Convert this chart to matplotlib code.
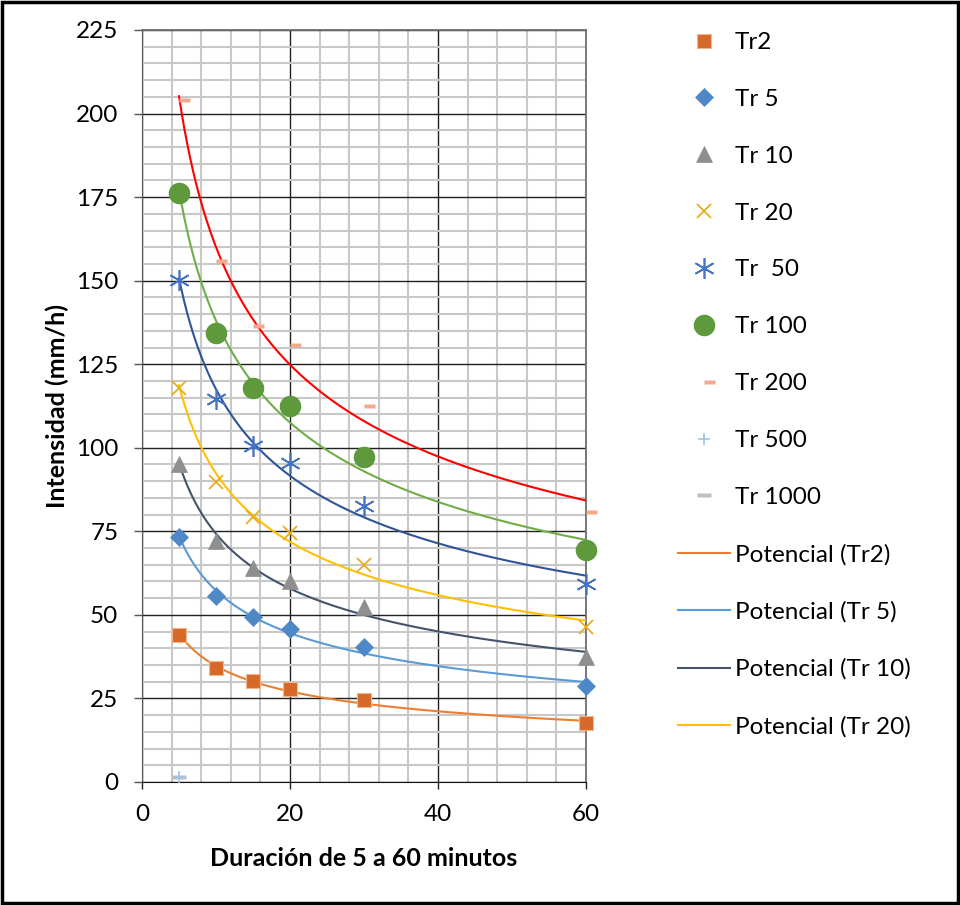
import matplotlib
matplotlib.use("Agg")
import matplotlib.pyplot as plt
from matplotlib.path import Path
from matplotlib.patches import Rectangle
import numpy as np

plt.rcParams['font.family'] = ['Lato', 'DejaVu Sans']

# duraciones (min)
dur = [5, 10, 15, 20, 30, 60]

tr2 = [44.0, 34.0, 30.3, 27.7, 24.4, 17.6]
tr5 = [73.2, 55.8, 49.5, 45.8, 40.3, 28.7]
tr10 = [95.0, 72.0, 64.0, 60.0, 52.3, 37.3]
tr20 = [118.0, 89.9, 79.3, 74.6, 64.8, 46.3]
tr50 = [150.1, 114.5, 100.5, 95.3, 82.6, 59.3]
tr100 = [176.3, 134.3, 117.8, 112.4, 97.1, 69.4]
tr200 = [204.2, 155.9, 136.4, 130.8, 112.5, 80.8]
dur_500 = [5]
tr500 = [1.5]
dur_1000 = [5]
tr1000 = [1.5]

# marcadores tipo guion (corto: desde el centro a la derecha)
short_dash = Path([(0, -0.18), (1, -0.18), (1, 0.18), (0, 0.18), (0, -0.18)],
                  [1, 2, 2, 2, 79])
long_dash = Path([(-1, -0.3), (1, -0.3), (1, 0.3), (-1, 0.3), (-1, -0.3)],
                 [1, 2, 2, 2, 79])

fs = 17.5

fig = plt.figure(figsize=(9.6, 9.05), dpi=100)
ax = fig.add_axes([142 / 960, 1 - 782 / 905, 444 / 960, 752 / 905])

series = [
    ("Tr2", tr2, dict(marker='s', ms=10.5, mfc='#D6692A', mec='#F2B48A', mew=0.8)),
    ("Tr 5", tr5, dict(marker='D', ms=9, mfc='#4F88C6', mec='#4F88C6', mew=0.5)),
    ("Tr 10", tr10, dict(marker='^', ms=11, mfc='#8F8F8F', mec='#8F8F8F', mew=0.5)),
    ("Tr 20", tr20, dict(marker='x', ms=10, mec='#E8AE1F', mew=1.3)),
    ("Tr  50", tr50, dict(marker=(6, 2, 0), ms=15, mec='#4472C4', mew=1.2)),
    ("Tr 100", tr100, dict(marker='o', ms=14.5, mfc='#5E9A3C', mec='#5E9A3C')),
    ("Tr 200", tr200, dict(marker=short_dash, ms=16, mfc='#F4A98A', mec='none')),
]
for lab, vals, st in series:
    ax.plot(dur, vals, linestyle='none', label=lab, clip_on=False, zorder=4, **st)
ax.plot(dur_500, tr500, linestyle='none', label="Tr 500", marker='+', ms=9,
        mec='#9DC3E6', mew=1.2, clip_on=False, zorder=4)
ax.plot(dur_1000, tr1000, linestyle='none', label="Tr 1000", marker=long_dash,
        ms=10, mfc='#BFBFBF', mec='none', clip_on=False, zorder=3)

# lineas de tendencia potencial  y = a * x^b
trend = [
    ("Potencial (Tr2)", tr2, '#ED7D31'),
    ("Potencial (Tr 5)", tr5, '#5B9BD5'),
    ("Potencial (Tr 10)", tr10, '#44546A'),
    ("Potencial (Tr 20)", tr20, '#FFC000'),
    ("_nolegend_", tr50, '#2F5597'),
    ("_nolegend_", tr100, '#70AD47'),
    ("_nolegend_", tr200, '#FF0000'),
]
xs = np.linspace(min(dur), max(dur), 300)
for lab, vals, col in trend:
    b, lna = np.polyfit(np.log(dur), np.log(vals), 1)
    ax.plot(xs, np.exp(lna) * xs ** b, color=col, lw=1.5, label=lab, zorder=3)

ax.set_xlim(0, 60)
ax.set_ylim(0, 225)
ax.set_xticks([0, 20, 40, 60])
ax.set_yticks(np.arange(0, 226, 25))
ax.set_xticks(np.arange(0, 61, 4), minor=True)
ax.set_yticks(np.arange(0, 226, 5), minor=True)
ax.grid(which='minor', color='#C8C8C8', lw=1.5, zorder=0)
ax.grid(which='major', color='#202020', lw=1.0, zorder=1)
ax.set_axisbelow(True)
ax.tick_params(which='minor', length=0)
ax.tick_params(axis='y', which='major', length=6, width=1, color='#555555',
               labelsize=fs, pad=11)
ax.tick_params(axis='x', which='major', length=5, width=1, color='#222222',
               labelsize=fs, pad=11)
ax.spines['left'].set_color('#555555')
ax.spines['bottom'].set_color('#111111')
for s in ['top', 'right']:
    ax.spines[s].set_color('#6F6F6F')
    ax.spines[s].set_linewidth(1.3)

ax.set_xlabel("Duración de 5 a 60 minutos", fontsize=18, fontweight='bold')
ax.set_ylabel("Intensidad (mm/h)", fontsize=18, fontweight='bold')
ax.xaxis.set_label_coords(0.5, (782 - 858) / 752)
ax.xaxis.label.set_va('center')
ax.yaxis.set_label_coords((57 - 142) / 444, 0.5)
ax.yaxis.label.set_va('center')

handles, labels = ax.get_legend_handles_labels()
fig.legend(handles, labels, loc='upper left',
           bbox_to_anchor=(678 / 960, 1 - 32 / 905), frameon=False,
           fontsize=fs, numpoints=1, handlelength=2.14, handletextpad=0.2,
           labelspacing=1.475, borderpad=0, borderaxespad=0)

fig.patches.append(Rectangle((0.002, 0.002), 0.996, 0.996,
                             transform=fig.transFigure, fill=False,
                             edgecolor='black', lw=2.5))

plt.savefig("out.png", dpi=100)
